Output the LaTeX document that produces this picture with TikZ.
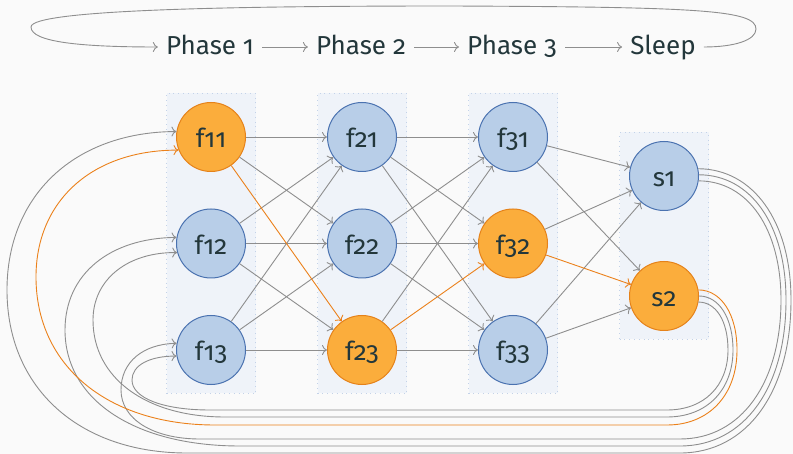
\documentclass[tikz,border=0pt]{standalone}
\usepackage{fontspec}
\setmainfont{Fira Sans}[Numbers=OldStyle]
\usetikzlibrary{arrows.meta,fit,backgrounds}

\definecolor{bgc}{HTML}{FAFAFA}
\definecolor{textc}{HTML}{23373B}
\definecolor{colfill}{HTML}{EFF3F9}
\definecolor{colline}{HTML}{C3D2E8}
\definecolor{bluefill}{HTML}{B8CEE8}
\definecolor{bluedraw}{HTML}{4A72B0}
\definecolor{orangefill}{HTML}{FBAD3C}
\definecolor{orangedraw}{HTML}{E5821A}
\definecolor{hotline}{HTML}{EB811B}
\definecolor{edgegray}{HTML}{8E8E8E}

\begin{document}
\begin{tikzpicture}[x=1pt,y=-1pt,
  state/.style={circle, minimum size=69pt, inner sep=0pt, line width=1pt,
    draw=bluedraw, fill=bluefill, text=textc,
    font=\fontsize{26}{30}\selectfont, text height=22pt, text depth=0pt},
  hot/.style={state, draw=orangedraw, fill=orangefill},
  hdr/.style={inner xsep=8pt, inner ysep=0pt, text=textc,
    font=\fontsize{26}{30}\selectfont, text height=18pt, text depth=2pt},
  colbox/.style={inner xsep=9.5pt, inner ysep=8.5pt, fill=colfill,
    draw=colline, line width=0.8pt, dash pattern=on 0.8pt off 4pt},
  edge/.style={draw=edgegray, line width=0.9pt, -{To[length=5pt,width=10pt]}},
  hotedge/.style={edge, draw=hotline}]

\begin{scope}[on background layer]
  \fill[bgc] (0,0) rectangle (793,454);
\end{scope}
\useasboundingbox (0,0) rectangle (793,454);

% header: phase cycle
\node[hdr] (p1) at (210,47) {Phase 1};
\node[hdr] (p2) at (361,47) {Phase 2};
\node[hdr] (p3) at (512,47) {Phase 3};
\node[hdr] (sl) at (663,47) {Sleep};
\draw[edge] (p1) -- (p2);
\draw[edge] (p2) -- (p3);
\draw[edge] (p3) -- (sl);
\draw[edge] (sl.east) .. controls (735,47) and (756,40) .. (756,29)
  .. controls (756,10) and (700,7) .. (450,6)
  .. controls (250,6) and (31,9) .. (31,27)
  .. controls (31,42) and (80,47) .. (p1.west);

% states
\node[hot]   (f11) at (211,137)   {f11};
\node[state] (f12) at (211,243.5) {f12};
\node[state] (f13) at (211,350)   {f13};
\node[state] (f21) at (362,137)   {f21};
\node[state] (f22) at (362,243.5) {f22};
\node[hot]   (f23) at (362,350)   {f23};
\node[state] (f31) at (513,137)   {f31};
\node[hot]   (f32) at (513,243.5) {f32};
\node[state] (f33) at (513,350)   {f33};
\node[state] (s1)  at (664,176)   {s1};
\node[hot]   (s2)  at (664,296)   {s2};

% column backgrounds
\begin{scope}[on background layer]
  \node[colbox, fit=(f11)(f13)] (c1) {};
  \node[colbox, fit=(f21)(f23)] (c2) {};
  \node[colbox, fit=(f31)(f33)] (c3) {};
  \node[colbox, fit=(s1)(s2)]   (c4) {};
\end{scope}

% transitions between phases
\foreach \a/\b in {f11/f21,f11/f22,f12/f21,f12/f22,f12/f23,f13/f21,f13/f22,f13/f23,
                   f21/f31,f21/f32,f21/f33,f22/f31,f22/f32,f22/f33,f23/f31,f23/f33,
                   f31/s1,f31/s2,f32/s1,f33/s1,f33/s2}
  \draw[edge] (\a) -- (\b);

% feedback from s1 (outer loops)
\draw[edge] (s1.12) .. controls (753,169) and (791,221) .. (791,300)
  .. controls (791,392) and (747,453) .. (680,453) -- (187,453)
  .. controls (79,453) and (7,388) .. (7,290)
  .. controls (7,195) and (75,132) .. (f11.171.5);
\draw[edge] (s1.2) .. controls (751,175) and (786,225) .. (786,300)
  .. controls (786,388) and (744,446) .. (680,446) -- (240,446)
  .. controls (135,446) and (65,400) .. (65,330)
  .. controls (65,274) and (110,238) .. (f12.170.7);
\draw[edge] (s1.-8) .. controls (748,181) and (781,229) .. (781,300)
  .. controls (781,383) and (741,439) .. (680,439) -- (200,439)
  .. controls (153,439) and (121,419) .. (121,390)
  .. controls (121,362) and (143,344) .. (f13.169.8);

% feedback from s2 (inner loops)
\draw[edge] (s2.east) .. controls (719,296) and (733,318) .. (733,350)
  .. controls (733,390) and (707,417) .. (667,417) -- (225,417)
  .. controls (146,417) and (93,378) .. (93,320)
  .. controls (93,280) and (127,252) .. (f12.195);
\draw[edge] (s2.-10) .. controls (716,302) and (728,321) .. (728,350)
  .. controls (728,386) and (704,410) .. (667,410) -- (210,410)
  .. controls (163,410) and (132,398) .. (132,380)
  .. controls (132,365) and (150,356) .. (f13.190);

% highlighted path
\draw[hotedge] (f11) -- (f23);
\draw[hotedge] (f23) -- (f32);
\draw[hotedge] (f32) -- (s2);
\draw[hotedge] (s2.10) .. controls (721,290) and (737,314) .. (737,350)
  .. controls (737,395) and (709,425) .. (667,425) -- (215,425)
  .. controls (108,425) and (36,366) .. (36,277)
  .. controls (36,201) and (92,150) .. (f11.202);
\end{tikzpicture}
\end{document}
